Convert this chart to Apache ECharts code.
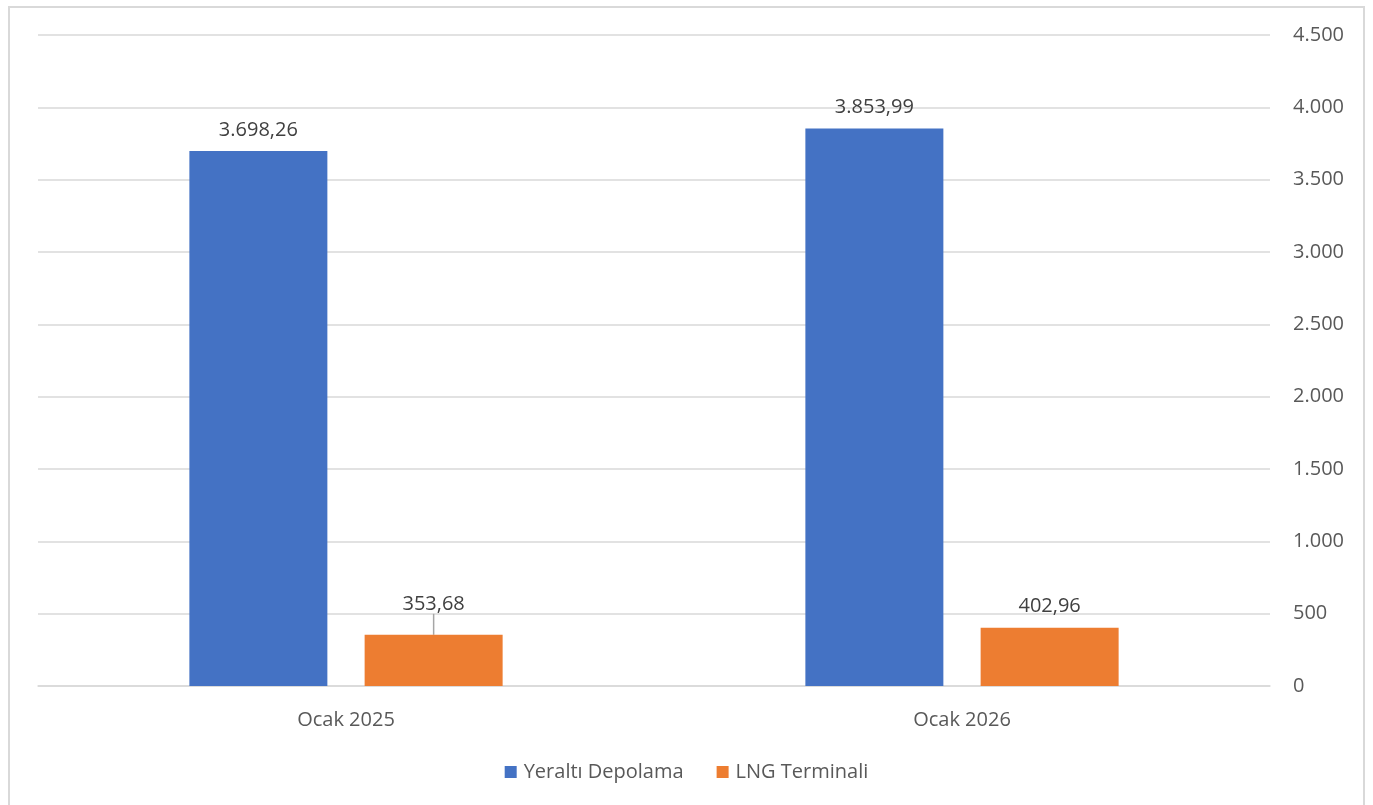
<!DOCTYPE html>
<html>
<head>
<meta charset="utf-8">
<script src="https://cdn.jsdelivr.net/npm/echarts@6/dist/echarts.min.js"></script>
<style>
html,body{margin:0;padding:0;background:#fff;}
#c{width:1373px;height:805px;}
</style>
</head>
<body>
<div id="c"></div>
<script>
const categories = ['Ocak 2025', 'Ocak 2026'];
const seriesNames = ['Yeraltı Depolama', 'LNG Terminali'];
const yeraltiValues = [3698.26, 3853.99];
const lngValues = [353.68, 402.96];
const yTicks = [0, 500, 1000, 1500, 2000, 2500, 3000, 3500, 4000, 4500];

function trNum(v, dec) {
  const neg = v < 0;
  v = Math.abs(v);
  let s = v.toFixed(dec);
  let parts = s.split('.');
  let intPart = parts[0].replace(/\B(?=(\d{3})+(?!\d))/g, '.');
  return (neg ? '-' : '') + intPart + (dec > 0 ? ',' + parts[1] : '');
}

const FONT = '"Open Sans", "Noto Sans", sans-serif';
const FS = 20;
const chart = echarts.init(document.getElementById('c'));
chart.setOption({
  backgroundColor: '#ffffff',
  animation: false,
  graphic: [{
    type: 'rect',
    shape: { x: 9, y: 7, width: 1355, height: 820 },
    style: { fill: 'none', stroke: '#d9d9d9', lineWidth: 2 },
    silent: true
  }],
  grid: { left: 38, right: 103, top: 35, bottom: 119 },
  legend: {
    bottom: 18,
    left: 'center',
    itemWidth: 12,
    itemHeight: 12,
    itemGap: 33,
    icon: 'rect',
    textStyle: { color: '#595959', fontSize: FS, fontFamily: FONT, padding: [0, 0, 0, 2] },
    data: seriesNames
  },
  xAxis: {
    type: 'category',
    data: categories,
    axisLine: { show: true, lineStyle: { color: '#d9d9d9', width: 1.5 } },
    axisTick: { show: false },
    axisLabel: { color: '#595959', fontSize: FS, fontFamily: FONT, margin: 24 }
  },
  yAxis: {
    type: 'value',
    position: 'right',
    min: 0,
    max: 4500,
    interval: 500,
    axisLine: { show: false },
    axisTick: { show: false },
    splitLine: { lineStyle: { color: '#d9d9d9', width: 1.5 } },
    axisLabel: {
      color: '#595959', fontSize: FS, fontFamily: FONT, margin: 23, align: 'left',
      formatter: v => yTicks.includes(v) ? trNum(v, 0) : ''
    }
  },
  series: [
    {
      name: seriesNames[0],
      type: 'bar',
      data: yeraltiValues,
      barWidth: 138,
      barGap: '27%',
      itemStyle: { color: '#4472C4' },
      label: {
        show: true, position: 'top', distance: 11,
        color: '#404040', fontSize: FS, fontFamily: FONT,
        formatter: p => trNum(p.value, 2)
      }
    },
    {
      name: seriesNames[1],
      type: 'bar',
      data: lngValues.map((v, i) => i === 0
        ? { value: v, labelLine: { show: true, lineStyle: { color: '#a6a6a6', width: 1.5 } } }
        : { value: v, labelLine: { show: false } }),
      barWidth: 138,
      itemStyle: { color: '#ED7D31' },
      label: {
        show: true, position: 'top', distance: 11,
        color: '#404040', fontSize: FS, fontFamily: FONT,
        formatter: p => trNum(p.value, 2)
      },
      labelLayout: function (p) {
        return p.dataIndex === 0 ? { dy: -10 } : {};
      },
      labelLine: { show: false }
    }
  ]
});
</script>
</body>
</html>
